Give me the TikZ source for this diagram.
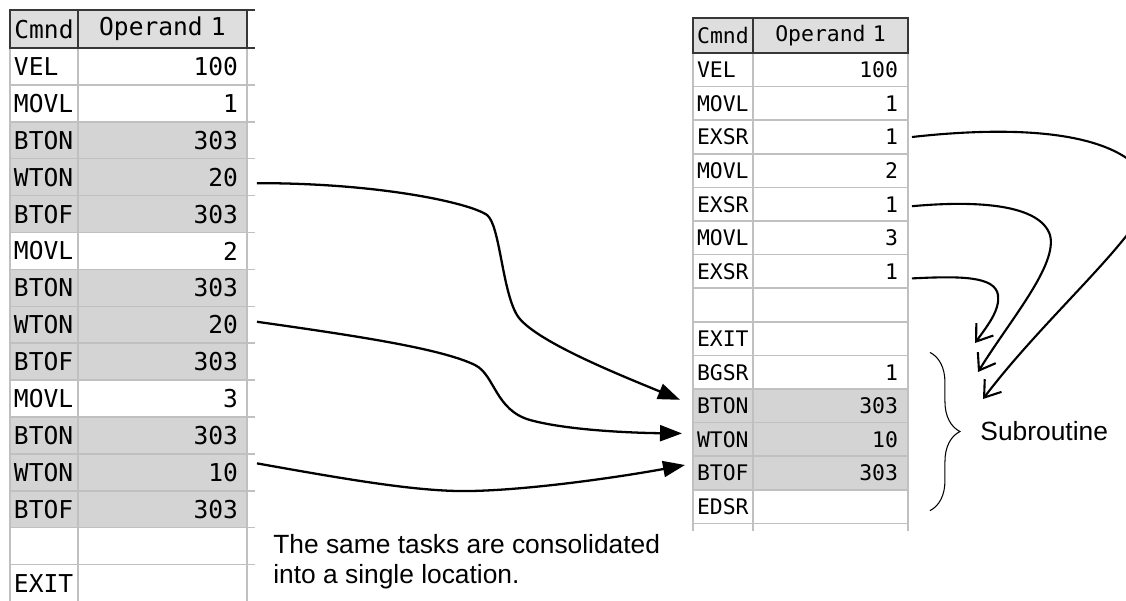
\documentclass[tikz,border=0pt]{standalone}
\usepackage{fontspec}
\setmainfont{Liberation Sans}
\newfontfamily\cellfont{DejaVu Sans Mono}
\usepackage{tikz}
\usetikzlibrary{positioning,arrows.meta,calc,decorations.pathreplacing}
\definecolor{cellgray}{RGB}{212,212,212}
\definecolor{gridgray}{RGB}{192,192,192}
\definecolor{headgray}{RGB}{222,222,222}
\definecolor{headline}{RGB}{55,55,55}
\tikzset{
  table-cell/.style={draw=gridgray, line width=0.85pt, outer sep=0pt, inner ysep=0pt,
    anchor=north west},
  head-cell/.style={draw=headline, line width=1.4pt, fill=headgray, align=center},
  grid-line/.style={draw=gridgray, line width=0.85pt},
  head-line/.style={draw=headline, line width=1.4pt},
  left-cmnd/.style={table-cell, minimum height=0.738cm, text width=1.2cm, inner xsep=0.08cm,
    align=left, font=\cellfont\fontsize{14}{15}\selectfont},
  left-op/.style={table-cell, minimum height=0.738cm, text width=3.02cm, inner xsep=0.18cm,
    align=right, font=\cellfont\fontsize{14}{15}\selectfont},
  right-cmnd/.style={table-cell, minimum height=0.672cm, text width=1.04cm, inner xsep=0.08cm,
    align=left, font=\cellfont\fontsize{12.2}{13}\selectfont},
  right-op/.style={table-cell, minimum height=0.672cm, text width=2.7cm, inner xsep=0.2cm,
    align=right, font=\cellfont\fontsize{12.2}{13}\selectfont},
  flow-arrow/.style={-{Triangle[length=0.44cm,width=0.32cm]}, line width=1.3pt},
  call-arrow/.style={-{Straight Barb[length=0.3cm,width=0.42cm]}, line width=1.2pt},
  brace-line/.style={decorate, decoration={brace, amplitude=0.6cm}, line width=0.6pt},
  note-text/.style={font=\fontsize{15}{17}\selectfont, align=left, inner sep=0pt}
}

\begin{document}
\begin{tikzpicture}[x=0.02cm, y=-0.02cm]
\useasboundingbox (0,0) rectangle (1126,600);
\clip (0,0) rectangle (1126,600);

% Left table: program without subroutine
\foreach \cmd/\val/\shade [count=\i] in {VEL/100/white, MOVL/1/white, BTON/303/cellgray,
    WTON/20/cellgray, BTOF/303/cellgray, MOVL/2/white, BTON/303/cellgray, WTON/20/cellgray,
    BTOF/303/cellgray, MOVL/3/white, BTON/303/cellgray, WTON/10/cellgray, BTOF/303/cellgray,
    {}/{}/white, EXIT/{}/white} {
  \node[left-cmnd, fill=\shade] (Lc\i) at (10,{48+(\i-1)*36.9}) {\cmd};
  \node[left-op, fill=\shade] (Lo\i) at (Lc\i.north east) {\val};
  \draw[grid-line] (Lo\i.south east) -- ++(8,0);
}
\node[left-cmnd, head-cell, minimum height=0.76cm, text width=1.3cm, inner xsep=0.03cm] (Lhc) at (10,10) {Cmnd};
\node[left-op, head-cell, minimum height=0.76cm] (Lho) at (Lhc.north east) {Operand 1};
\draw[head-line] (Lho.north east) -- ++(8,0);
\draw[head-line] (Lho.south east) -- ++(8,0);

% Right table: program with subroutine
\foreach \cmd/\val/\shade [count=\i] in {VEL/100/white, MOVL/1/white, EXSR/1/white,
    MOVL/2/white, EXSR/1/white, MOVL/3/white, EXSR/1/white, {}/{}/white, EXIT/{}/white,
    BGSR/1/white, BTON/303/cellgray, WTON/10/cellgray, BTOF/303/cellgray, EDSR/{}/white} {
  \node[right-cmnd, fill=\shade] (Rc\i) at (693,{53+(\i-1)*33.6}) {\cmd};
  \node[right-op, fill=\shade] (Ro\i) at (Rc\i.north east) {\val};
}
\node[right-cmnd, head-cell, minimum height=0.70cm, text width=1.14cm, inner xsep=0.03cm] (Rhc) at (693,18) {Cmnd};
\node[right-op, head-cell, minimum height=0.70cm] (Rho) at (Rhc.north east) {Operand 1};
\draw[grid-line] (Rc14.south west) -- ++(0,8);
\draw[grid-line] (Ro14.south west) -- ++(0,8);
\draw[grid-line] (Ro14.south east) -- ++(0,8);

% Repeated tasks -> one location
\draw[flow-arrow] ($(Lo4.east)+(10,6)$) .. controls (380,183) and (470,203) .. (487,215)
  .. controls (500,225) and (502,290) .. (517,315)
  .. controls (532,340) and (620,375) .. ($(Rc11.west)+(-13,-6)$);
\draw[flow-arrow] ($(Lo8.east)+(10,-3)$) .. controls (350,335) and (440,348) .. (475,365)
  .. controls (495,375) and (495,410) .. (530,420)
  .. controls (570,431) and (640,433) .. ($(Rc12.west)+(-11,-6)$);
\draw[flow-arrow] ($(Lo12.east)+(10,-9)$) .. controls (350,480) and (420,492) .. (470,491)
  .. controls (530,490) and (620,477) .. ($(Rc13.west)+(-8,-8)$);

% Calls into the subroutine
\coordinate (tipA) at (983,399);
\coordinate (tipB) at (978,372);
\coordinate (tipC) at (975,343);
\draw[call-arrow] ($(Ro3.east)+(4,0)$) .. controls (1010,126) and (1125,128) .. (1150,185)
  .. controls (1160,220) and (1050,310) .. (tipA);
\draw[call-arrow] ($(Ro5.east)+(4,2)$) .. controls (980,200) and (1040,205) .. (1050,235)
  .. controls (1058,265) and (1010,320) .. (tipB);
\draw[call-arrow] ($(Ro7.east)+(4,7)$) .. controls (960,276) and (995,276) .. (998,295)
  .. controls (1000,310) and (988,325) .. (tipC);

% Brace and labels
\draw[brace-line] ($(Ro10.north east)+(22,-3)$) -- ($(Ro14.east)+(22,4)$)
  node[note-text, midway, right=1cm] (sublabel) {Subroutine};
\node[note-text, anchor=north west] (note) at (273,534) {The same tasks are consolidated\\into a single location.};
\end{tikzpicture}
\end{document}
